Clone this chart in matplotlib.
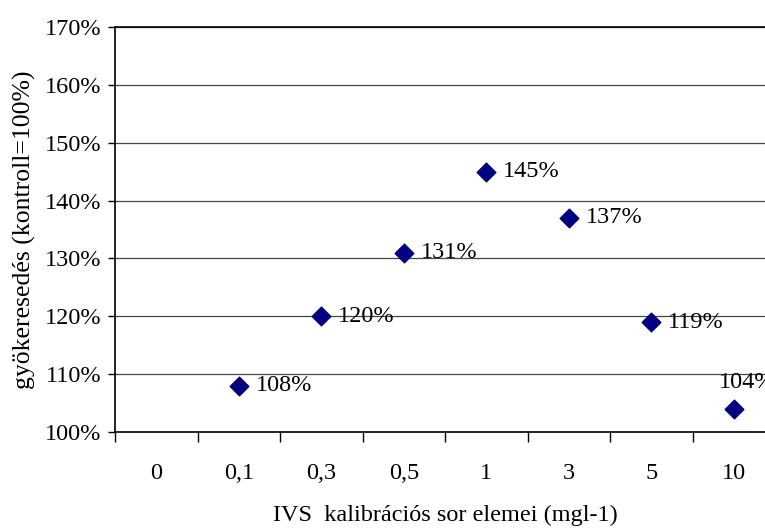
import numpy as np
import matplotlib.pyplot as plt

plt.rcParams['font.family'] = ['Liberation Serif', 'DejaVu Serif']

# kalibrációs sor elemei és a gyökeresedés (kontroll=100%)
kategoriak = ['0', '0,1', '0,3', '0,5', '1', '3', '5', '10']
ertekek = [None, 108, 120, 131, 145, 137, 119, 104]

fs = 17.5
fig = plt.figure(figsize=(7.65, 5.31), dpi=100)
W, H = 765, 531
ax = fig.add_axes([115 / W, (H - 432) / H, 660 / W, 405 / H])

xs = [i for i, v in enumerate(ertekek) if v is not None]
ys = [v / 100 for v in ertekek if v is not None]
ax.scatter(xs, ys, marker='D', s=90, color='#000080', zorder=3, clip_on=False)

for x, y in zip(xs, ys):
    if x == len(kategoriak) - 1:
        # az utolsó címke a pont fölé kerül
        ax.annotate(f'{round(y * 100)}%', (x, y), xytext=(-11, 19),
                    textcoords='offset points', ha='left', va='center',
                    fontsize=fs, annotation_clip=False)
    else:
        ax.annotate(f'{round(y * 100)}%', (x, y), xytext=(12, 0),
                    textcoords='offset points', ha='left', va='center',
                    fontsize=fs, annotation_clip=False)

ax.set_xlim(-0.5, len(kategoriak) - 0.5)
ax.set_ylim(1.0, 1.7)
ax.set_yticks(np.arange(1.0, 1.71, 0.1))
ax.set_yticklabels([f'{int(round(t * 100))}%' for t in np.arange(1.0, 1.71, 0.1)])
ax.set_xticks(range(len(kategoriak)))
ax.set_xticklabels(kategoriak)
ax.set_xticks(np.arange(-0.5, len(kategoriak), 1), minor=True)
ax.tick_params(axis='x', which='major', length=0, pad=22, labelsize=fs)
ax.tick_params(axis='x', which='minor', length=7, width=1, direction='out')
ax.tick_params(axis='y', length=5, width=1, direction='out', labelsize=fs, pad=5)

ax.grid(axis='y', color='#444444', linewidth=0.9)
ax.set_axisbelow(True)
for side in ['left', 'bottom', 'top']:
    ax.spines[side].set_color('black')
    ax.spines[side].set_linewidth(1.2)
ax.spines['right'].set_visible(False)

ax.set_xlabel('IVS  kalibrációs sor elemei (mgl-1)', fontsize=fs, labelpad=15)
ax.set_ylabel('gyökeresedés (kontroll=100%)', fontsize=18.5, labelpad=6)

fig.savefig('out.png', dpi=100)
